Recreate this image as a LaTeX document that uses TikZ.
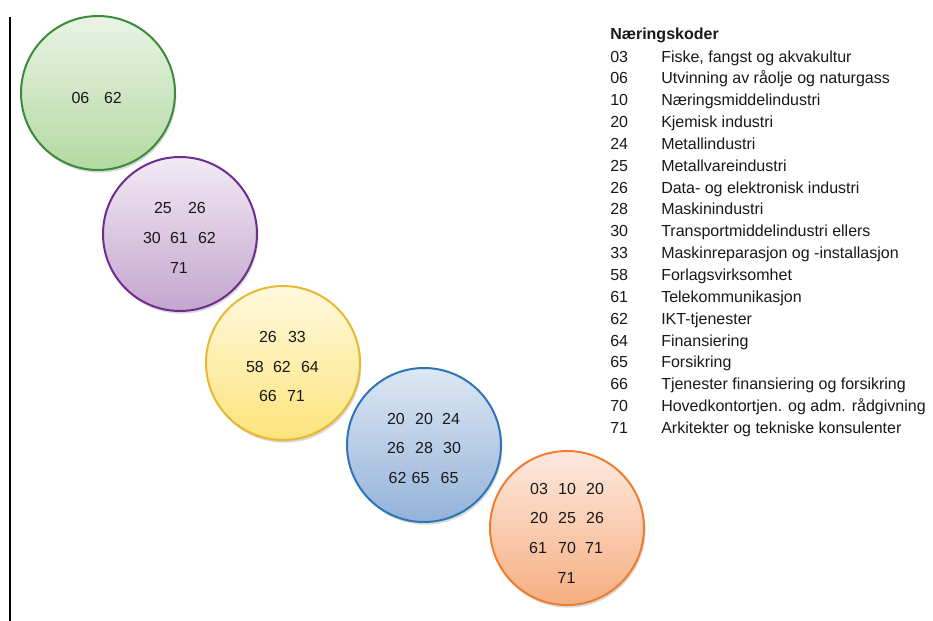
\documentclass[tikz,border=0pt]{standalone}
\usepackage{fontspec}
\setmainfont{Liberation Sans}
\usetikzlibrary{shadows}
\definecolor{gB}{HTML}{3A8C3A}\definecolor{gT}{HTML}{EAF3E5}\definecolor{gD}{HTML}{B3D9A2}
\definecolor{pB}{HTML}{6F2C91}\definecolor{pT}{HTML}{F2EAF4}\definecolor{pD}{HTML}{C4A5CE}
\definecolor{yB}{HTML}{E8B830}\definecolor{yT}{HTML}{FFF9DE}\definecolor{yD}{HTML}{FCE47C}
\definecolor{bB}{HTML}{2E75B6}\definecolor{bT}{HTML}{DDE7F4}\definecolor{bD}{HTML}{94B3D9}
\definecolor{oB}{HTML}{ED7D31}\definecolor{oT}{HTML}{FDE9DF}\definecolor{oD}{HTML}{F6AE80}
\begin{document}
\begin{tikzpicture}[x=0.75pt,y=-0.75pt,
  circ/.style={circle,minimum size=115.5pt,inner sep=0pt,line width=1.5pt,
    drop shadow={shadow xshift=1pt,shadow yshift=-2pt,opacity=0.25,fill=black!60}},
  num/.style={inner sep=0pt,anchor=base,font=\fontsize{12}{14}\selectfont,text=black!90},
  code/.style={inner sep=0pt,anchor=base west,font=\fontsize{12}{14}\selectfont,text=black!90}]
\useasboundingbox (0,0) rectangle (933,621);
\fill[white] (0,0) rectangle (933,621);
\coordinate (lt) at (10,17);
\coordinate (lb) at (10,621);
\draw[line width=1.5pt,black] (lt) -- (lb);
% circles
\node[circ,draw=gB,top color=gT,bottom color=gD] (c1) at (98,93) {};
\node[circ,draw=pB,top color=pT,bottom color=pD] (c2) at (180,234) {};
\node[circ,draw=yB,top color=yT,bottom color=yD] (c3) at (283,363) {};
\node[circ,draw=bB,top color=bT,bottom color=bD] (c4) at (424,445) {};
\node[circ,draw=oB,top color=oT,bottom color=oD] (c5) at (567,528) {};
% green
\node[num] (g1) at (80.5,103) {06};
\node[num] (g2) at (113,103) {62};
% purple
\node[num] (p1) at (163,213) {25};
\node[num] (p2) at (197,213) {26};
\node[num] (p3) at (152,243) {30};
\node[num] (p4) at (179,243) {61};
\node[num] (p5) at (207,243) {62};
\node[num] (p6) at (179,273) {71};
% yellow
\node[num] (y1) at (268,342) {26};
\node[num] (y2) at (297,342) {33};
\node[num] (y3) at (255,372) {58};
\node[num] (y4) at (282,372) {62};
\node[num] (y5) at (310,372) {64};
\node[num] (y6) at (268,401) {66};
\node[num] (y7) at (296,401) {71};
% blue
\node[num] (b1) at (396,424) {20};
\node[num] (b2) at (424,424) {20};
\node[num] (b3) at (451,424) {24};
\node[num] (b4) at (396,453) {26};
\node[num] (b5) at (424,453) {28};
\node[num] (b6) at (452,453) {30};
\node[num] (b7) at (397.5,483) {62};
\node[num] (b8) at (420.5,483) {65};
\node[num] (b9) at (449.5,483) {65};
% orange
\node[num] (o1) at (539,494) {03};
\node[num] (o2) at (567,494) {10};
\node[num] (o3) at (595,494) {20};
\node[num] (o4) at (539,523) {20};
\node[num] (o5) at (567,523) {25};
\node[num] (o6) at (595,523) {26};
\node[num] (o7) at (538,553) {61};
\node[num] (o8) at (567,553) {70};
\node[num] (o9) at (594,553) {71};
\node[num] (o10) at (566.5,583) {71};
% legend
\node[code,font=\fontsize{12}{14}\selectfont\bfseries] (title) at (610,40) {Næringskoder};
\foreach \i/\c/\t in {0/03/{Fiske, fangst og akvakultur},
  1/06/{Utvinning av råolje og naturgass},
  2/10/{Næringsmiddelindustri},
  3/20/{Kjemisk industri},
  4/24/{Metallindustri},
  5/25/{Metallvareindustri},
  6/26/{Data- og elektronisk industri},
  7/28/{Maskinindustri},
  8/30/{Transportmiddelindustri ellers},
  9/33/{Maskinreparasjon og -installasjon},
  10/58/{Forlagsvirksomhet},
  11/61/{Telekommunikasjon},
  12/62/{IKT-tjenester},
  13/64/{Finansiering},
  14/65/{Forsikring},
  15/66/{Tjenester finansiering og forsikring},
  16/70/{Hovedkontortjen. og adm. rådgivning},
  17/71/{Arkitekter og tekniske konsulenter}}{
  \node[code] (k\i) at (610,{62+21.85*\i}) {\c};
  \node[code] (l\i) at (661,{62+21.85*\i}) {\t};
}
\end{tikzpicture}
\end{document}
